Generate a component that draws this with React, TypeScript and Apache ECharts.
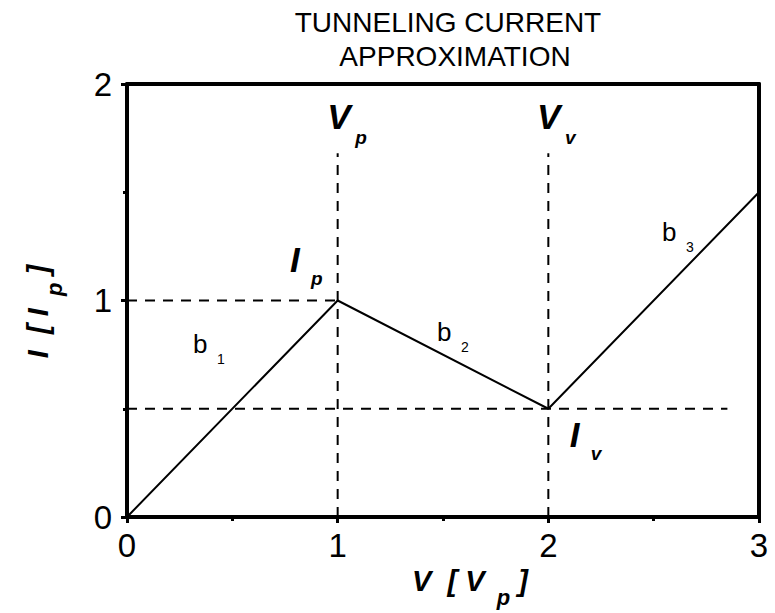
import React, { useEffect, useRef } from "react";
import * as echarts from "echarts";

// ---- data ----
const voltage = [0, 1, 2, 3];
const current = [0, 1, 0.5, 1.5];
const peakCurrentGuide = [[0, 1], [1, 1]];
const valleyCurrentGuide = [[0, 0.5], [2.85, 0.5]];
const peakVoltageGuide = [[1, 0], [1, 1.68]];
const valleyVoltageGuide = [[2, 0], [2, 1.68]];

const annotationMain = ["V", "V", "I", "I", "b", "b", "b"];
const annotationSub = ["p", "v", "p", "v", "1", "2", "3"];
const annotationX = [0.95, 1.946, 0.774, 2.102, 0.313, 1.471, 2.539];
const annotationY = [1.85, 1.85, 1.189, 0.379, 0.798, 0.853, 1.318];

const titleText = "TUNNELING CURRENT\n  APPROXIMATION";
const xName = ["V  [ V", "  p", " ]"];
const yName = ["I  [ I", "  p", " ]"];

const FONT = "'Liberation Sans', Arial, Helvetica, sans-serif";

export default function App() {
  const ref = useRef<HTMLDivElement>(null);
  useEffect(() => {
    if (!ref.current) return;
    const chart = echarts.init(ref.current, undefined, { renderer: "svg" });
    const axisLineStyle = { color: "#000", width: 4 };
    const nameRich = {
      m: { fontFamily: FONT, fontSize: 29, fontWeight: "bold", fontStyle: "italic", lineHeight: 30, verticalAlign: "top", color: "#000" },
      s: { fontFamily: FONT, fontSize: 22, fontWeight: "bold", fontStyle: "italic", lineHeight: 22, padding: [20, 0, 0, 0], verticalAlign: "top", color: "#000" },
    };
    const guide = (data: number[][]) => ({
      type: "line",
      data,
      symbol: "none",
      silent: true,
      lineStyle: { color: "#000", width: 2, type: [10, 8] },
      z: 2,
    });
    chart.setOption({
      animation: false,
      backgroundColor: "#fff",
      title: {
        text: titleText,
        left: 448,
        top: 5,
        padding: 0,
        textAlign: "center",
        textStyle: { fontFamily: FONT, fontSize: 28, fontWeight: "normal", color: "#000", lineHeight: 34 },
      },
      grid: { left: 127, right: 16, top: 84, bottom: 96, outerBoundsMode: "none" },
      xAxis: [
        {
          type: "value",
          min: 0,
          max: 3,
          interval: 1,
          position: "bottom",
          axisLine: { show: true, onZero: false, lineStyle: axisLineStyle },
          axisTick: { show: true, length: 6, lineStyle: { color: "#000", width: 3 } },
          minorTick: { show: true, splitNumber: 2, length: 4, lineStyle: { color: "#000", width: 3 } },
          splitLine: { show: false },
          axisLabel: { fontFamily: FONT, fontSize: 33, color: "#000", margin: 12 },
          name: `{m|${xName[0]}}{s|${xName[1]}}{m|${xName[2]}}`,
          nameLocation: "middle",
          nameGap: 37,
          nameTextStyle: { padding: [0, 0, 0, 54], rich: nameRich },
        },
        {
          type: "value",
          min: 0,
          max: 3,
          interval: 1,
          position: "top",
          axisLine: { show: true, onZero: false, lineStyle: axisLineStyle },
          axisTick: { show: false },
          axisLabel: { show: false },
          splitLine: { show: false },
        },
      ],
      yAxis: [
        {
          type: "value",
          min: 0,
          max: 2,
          interval: 1,
          position: "left",
          axisLine: { show: true, onZero: false, lineStyle: axisLineStyle },
          axisTick: { show: true, length: 6, lineStyle: { color: "#000", width: 3 } },
          minorTick: { show: true, splitNumber: 2, length: 4, lineStyle: { color: "#000", width: 3 } },
          splitLine: { show: false },
          axisLabel: { fontFamily: FONT, fontSize: 33, color: "#000", margin: 15 },
          name: `{m|${yName[0]}}{s|${yName[1]}}{m|${yName[2]}}`,
          nameLocation: "middle",
          nameRotate: 90,
          nameGap: 74,
          nameTextStyle: { padding: [0, 22, 0, 0], rich: nameRich },
        },
        {
          type: "value",
          min: 0,
          max: 2,
          interval: 1,
          position: "right",
          axisLine: { show: true, onZero: false, lineStyle: axisLineStyle },
          axisTick: { show: false },
          axisLabel: { show: false },
          splitLine: { show: false },
        },
      ],
      series: [
        guide(peakCurrentGuide),
        guide(valleyCurrentGuide),
        guide(peakVoltageGuide),
        guide(valleyVoltageGuide),
        {
          type: "line",
          data: voltage.map((v, i) => [v, current[i]]),
          symbol: "none",
          lineStyle: { color: "#000", width: 2 },
          z: 3,
        },
      ],
    });

    const elements: any[] = [];
    annotationMain.forEach((m, i) => {
      const [px, py] = chart.convertToPixel({ gridIndex: 0 }, [annotationX[i], annotationY[i]]) as number[];
      const isSymbol = m !== "b";
      const mainFont = isSymbol ? `italic bold 35px ${FONT}` : `normal 26px ${FONT}`;
      const subFont = isSymbol ? `italic bold 19px ${FONT}` : `normal 14px ${FONT}`;
      const dx = isSymbol ? (m === "V" ? 28 : 21) : 24;
      const dy = isSymbol ? (m === "V" ? 21 : 19) : 15;
      elements.push({
        type: "text",
        x: px,
        y: py,
        silent: true,
        style: { text: m, font: mainFont, fill: "#000", align: "left", verticalAlign: "middle", textAlign: "left", textVerticalAlign: "middle" },
      });
      elements.push({
        type: "text",
        x: px + dx,
        y: py + dy,
        silent: true,
        style: { text: annotationSub[i], font: subFont, fill: "#000", align: "left", verticalAlign: "middle", textAlign: "left", textVerticalAlign: "middle" },
      });
    });
    chart.setOption({ graphic: elements });

    return () => chart.dispose();
  }, []);

  return (
    <div
      ref={ref}
      style={{ position: "fixed", left: 0, top: 0, width: 775, height: 613, background: "#fff" }}
    />
  );
}
